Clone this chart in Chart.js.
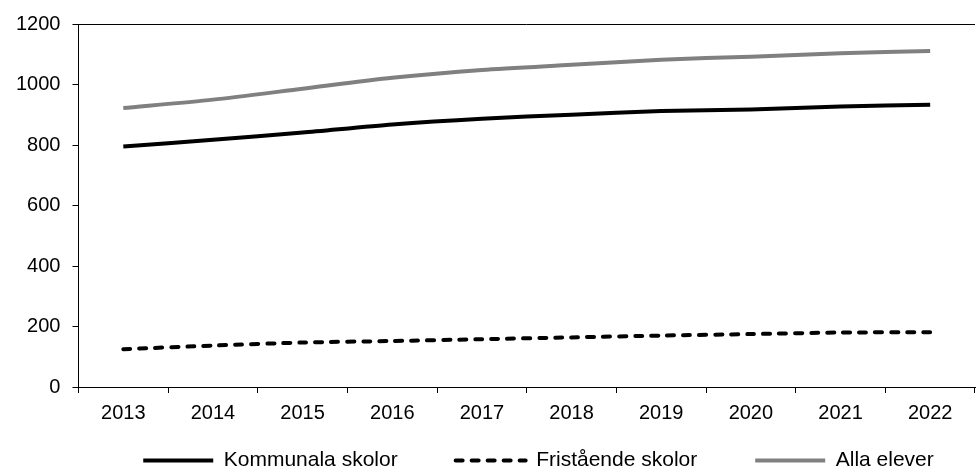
<!DOCTYPE html>
<html>
<head>
<meta charset="utf-8">
<script src="https://cdn.jsdelivr.net/npm/chart.js@4.4.1/dist/chart.umd.min.js"></script>
<style>
  html, body { margin: 0; padding: 0; background: #fff; }
  #wrap { width: 976px; height: 470px; }
</style>
</head>
<body>
<div id="wrap"><canvas id="myChart"></canvas></div>
<script>
const years = ['2013', '2014', '2015', '2016', '2017', '2018', '2019', '2020', '2021', '2022'];
const kommunala = [795, 817, 841, 868, 887, 900, 912, 917, 927, 933];
const fristaende = [125, 137, 147, 152, 158, 164, 170, 175, 180, 181];
const allaElever = [922, 950, 986, 1022, 1048, 1065, 1082, 1092, 1103, 1111];
const yTicks = [0, 200, 400, 600, 800, 1000, 1200];

Chart.defaults.font.family = '"Liberation Sans", Arial, sans-serif';
Chart.defaults.font.size = 20;
Chart.defaults.color = '#000';

// top frame line of the plot area, and legend nudged right like the original
const frame = {
  id: 'frame',
  afterLayout(chart) {
    chart.legend.left += 49;
    chart.legend.right += 49;
  },
  afterDraw(chart) {
    const { ctx, chartArea } = chart;
    ctx.save();
    ctx.strokeStyle = '#000';
    ctx.lineWidth = 1;
    ctx.beginPath();
    ctx.moveTo(chartArea.left, chartArea.top + 0.5);
    ctx.lineTo(chartArea.right, chartArea.top + 0.5);
    ctx.stroke();
    ctx.restore();
  }
};

const ctx = document.getElementById('myChart');
const myChart = new Chart(ctx, {
  type: 'line',
  data: {
    labels: years,
    datasets: [
      {
        label: 'Kommunala skolor',
        data: kommunala,
        borderColor: '#000',
        backgroundColor: '#000',
        borderWidth: 4,
        tension: 0.25,
        pointRadius: 0
      },
      {
        label: 'Fristående skolor',
        data: fristaende,
        borderColor: '#000',
        backgroundColor: '#000',
        borderWidth: 4,
        borderDash: [7, 9],
        borderCapStyle: 'round',
        tension: 0.25,
        pointRadius: 0
      },
      {
        label: 'Alla elever',
        data: allaElever,
        borderColor: '#808080',
        backgroundColor: '#808080',
        borderWidth: 4,
        tension: 0.25,
        pointRadius: 0
      }
    ]
  },
  options: {
    responsive: true,
    maintainAspectRatio: false,
    animation: false,
    layout: { padding: { top: 24, right: 1, left: 4, bottom: -11 } },
    plugins: {
      legend: {
        position: 'bottom',
        labels: {
          usePointStyle: true,
          pointStyle: 'line',
          pointStyleWidth: 70,
          padding: 58,
          color: '#000',
          font: { size: 21 },
          generateLabels(chart) {
            const items = Chart.defaults.plugins.legend.labels.generateLabels(chart);
            items.forEach(it => {
              const ds = chart.data.datasets[it.datasetIndex];
              it.lineDash = ds.borderDash || [];
              it.lineCap = ds.borderCapStyle || 'butt';
            });
            return items;
          }
        }
      },
      tooltip: { enabled: false }
    },
    scales: {
      x: {
        offset: true,
        afterFit(scale) {
          // let the labels hang into the legend's empty top padding
          scale.height = 5;
          scale._computeLabelArea = () => undefined;
        },
        grid: {
          offset: true,
          drawOnChartArea: false,
          drawTicks: true,
          tickLength: 6,
          color: '#000'
        },
        border: { color: '#000', width: 1 },
        ticks: { padding: 8, maxRotation: 0 }
      },
      y: {
        min: 0,
        max: 1200,
        afterBuildTicks(axis) {
          axis.ticks = yTicks.map(v => ({ value: v }));
        },
        grid: {
          drawOnChartArea: false,
          drawTicks: true,
          tickLength: 6,
          color: '#000'
        },
        border: { color: '#000', width: 1 },
        ticks: { padding: 12, callback: v => String(v) }
      }
    }
  },
  plugins: [frame]
});
</script>
</body>
</html>
